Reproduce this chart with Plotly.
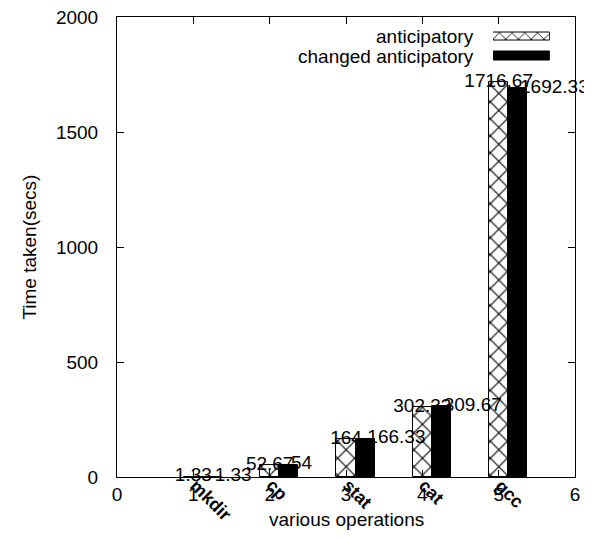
import plotly.graph_objects as go

categories = ["mkdir", "cp", "stat", "cat", "gcc"]
positions = [1, 2, 3, 4, 5]
anticipatory = [1.33, 52.67, 164, 302.33, 1716.67]
changed_anticipatory = [1.33, 54, 166.33, 309.67, 1692.33]
series_names = ["anticipatory", "changed anticipatory"]
x_ticks = [0, 1, 2, 3, 4, 5, 6]
y_ticks = [0, 500, 1000, 1500, 2000]

FONT = "Liberation Sans, Arial, Helvetica, sans-serif"
FS = 19
BW = 0.25

fig = go.Figure()

# value labels (drawn under the bars)
fig.add_trace(go.Scatter(
    x=positions, y=anticipatory, mode="text", cliponaxis=False,
    text=[f"{v:g}" for v in anticipatory], textposition="middle center",
    textfont=dict(family=FONT, size=FS, color="black"),
    showlegend=False, hoverinfo="skip", xaxis="x", yaxis="y"))
fig.add_trace(go.Scatter(
    x=[p + 0.28 for p in positions], y=changed_anticipatory, mode="text", cliponaxis=False,
    text=[f"{v:g}" for v in changed_anticipatory], textposition="middle right",
    textfont=dict(family=FONT, size=FS, color="black"),
    showlegend=False, hoverinfo="skip", xaxis="x", yaxis="y"))

HATCH = dict(shape="x", fgcolor="black", fgopacity=1, bgcolor="rgba(0,0,0,0)", size=12, solidity=0.18)

# bars on an overlaid subplot so they sit above the labels
fig.add_trace(go.Bar(
    x=positions, y=anticipatory, width=BW, name=series_names[0],
    marker=dict(color="rgba(0,0,0,0)", line=dict(color="black", width=1), pattern=HATCH),
    showlegend=False, xaxis="x2", yaxis="y2"))
fig.add_trace(go.Bar(
    x=[p + BW for p in positions], y=changed_anticipatory, width=BW, name=series_names[1],
    marker=dict(color="black", line=dict(color="black", width=1)),
    showlegend=False, xaxis="x2", yaxis="y2"))

# legend samples
fig.add_trace(go.Bar(
    x=[1], y=[1], base=[0], orientation="h", width=0.45,
    marker=dict(color="white", line=dict(color="black", width=1),
                pattern=dict(HATCH, size=9, bgcolor="white")),
    showlegend=False, hoverinfo="skip", xaxis="x3", yaxis="y3"))
fig.add_trace(go.Bar(
    x=[1], y=[0], base=[0], orientation="h", width=0.45,
    marker=dict(color="black", line=dict(color="black", width=1)),
    showlegend=False, hoverinfo="skip", xaxis="x3", yaxis="y3"))

annotations = []
for name, yp in zip(series_names, [0.9576, 0.9141]):
    annotations.append(dict(text=name, x=0.784, y=yp, xref="paper", yref="paper",
                            xanchor="right", yanchor="middle", showarrow=False,
                            font=dict(family=FONT, size=FS, color="black")))
for cat, p in zip(categories, positions):
    annotations.append(dict(text=f"<b>{cat}</b>", x=p, y=0, xref="x", yref="y",
                            xanchor="left", yanchor="top", textangle=45, showarrow=False,
                            xshift=-10, yshift=4,
                            font=dict(family=FONT, size=18, color="black")))
annotations.append(dict(text="various operations", x=0.5, y=-0.093, xref="paper", yref="paper",
                        xanchor="center", yanchor="middle", showarrow=False,
                        font=dict(family=FONT, size=FS, color="black")))
annotations.append(dict(text="Time taken(secs)", x=-0.193, y=0.5, xref="paper", yref="paper",
                        xanchor="center", yanchor="middle", showarrow=False, textangle=-90,
                        font=dict(family=FONT, size=FS, color="black")))

axis_common = dict(showline=True, linecolor="black", linewidth=1, mirror="allticks",
                   ticks="inside", ticklen=7, tickcolor="black", showgrid=False,
                   zeroline=False, automargin=False, ticklabeloverflow="allow",
                   tickfont=dict(family=FONT, size=FS, color="black"))

fig.update_layout(
    width=584, height=531,
    margin=dict(l=109, r=17, t=9, b=62, autoexpand=False),
    paper_bgcolor="white", plot_bgcolor="white",
    barmode="overlay", bargap=0,
    font=dict(family=FONT, size=FS, color="black"),
    xaxis=dict(range=[0, 6], tickvals=x_ticks, **axis_common),
    yaxis=dict(range=[0, 2000], tickvals=y_ticks, ticklabelstandoff=14, **axis_common),
    xaxis2=dict(range=[0, 6], overlaying="x", visible=False),
    yaxis2=dict(range=[0, 2000], overlaying="y", visible=False),
    xaxis3=dict(domain=[0.821, 0.945], range=[0, 1], anchor="y3", visible=False),
    yaxis3=dict(domain=[0.8924, 0.9793], range=[-0.5, 1.5], anchor="x3", visible=False),
    annotations=annotations,
)

fig.write_html("out.html")
